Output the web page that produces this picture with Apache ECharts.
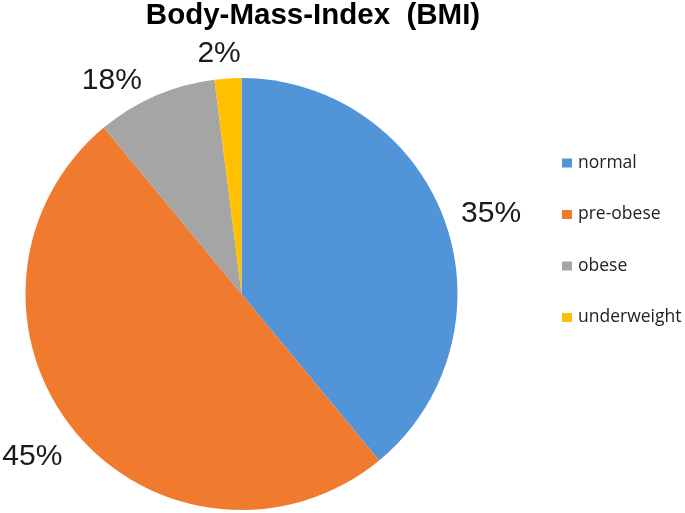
<!DOCTYPE html>
<html>
<head>
<meta charset="utf-8">
<script src="https://cdn.jsdelivr.net/npm/echarts@6/dist/echarts.min.js"></script>
<style>html,body{margin:0;padding:0;background:#fff}#c{width:685px;height:513px}</style>
</head>
<body>
<div id="c"></div>
<script>
// Data
var categories = ['normal', 'pre-obese', 'obese', 'underweight'];
var sliceValues = [39, 50, 9, 2];            // slice sizes as drawn
var labelTexts = ['35%', '45%', '18%', '2%']; // printed percentage labels
var colors = ['#5294D8', '#F07B2E', '#A5A5A5', '#FFC000'];
// small layout nudges for the percentage labels (style, not data)
var labelNudges = [[4, 8], [-8, -4], [-26, 26], [-6, 20]];

var mainData = categories.map(function (c, i) {
  return { name: c, value: sliceValues[i], itemStyle: { color: colors[i] } };
});
var labelData = categories.map(function (c, i) {
  return { name: c, value: sliceValues[i], label: { offset: labelNudges[i] } };
});

var chart = echarts.init(document.getElementById('c'), null, { renderer: 'canvas' });
chart.setOption({
  animation: false,
  backgroundColor: '#ffffff',
  title: {
    text: 'Body-Mass-Index  (BMI)',
    left: 308,
    textAlign: 'center',
    top: -4,
    textStyle: { fontFamily: 'Liberation Sans', fontSize: 29.5, fontWeight: 'bold', color: '#000' }
  },
  legend: {
    orient: 'vertical',
    left: 562,
    top: 153,
    padding: 0,
    icon: 'rect',
    itemWidth: 10,
    itemHeight: 9,
    itemGap: 31.5,
    data: categories.map(function (c, i) { return { name: c, itemStyle: { color: colors[i] } }; }),
    textStyle: { fontFamily: 'Open Sans', fontSize: 17.5, color: '#222', lineHeight: 20, padding: [0, 0, 0, 1] }
  },
  series: [
    {
      type: 'pie',
      center: [241.5, 294],
      radius: [0, 216],
      startAngle: 90,
      clockwise: true,
      label: { show: false },
      labelLine: { show: false },
      itemStyle: { borderWidth: 0 },
      emphasis: { disabled: true },
      data: mainData
    },
    {
      type: 'pie',
      center: [241.5, 294],
      radius: [244, 272],
      startAngle: 90,
      clockwise: true,
      silent: true,
      itemStyle: { color: 'rgba(0,0,0,0)', borderWidth: 0 },
      label: {
        show: true,
        position: 'inside',
        formatter: function (p) { return labelTexts[p.dataIndex]; },
        fontFamily: 'Liberation Sans',
        fontSize: 30,
        color: '#1a1a1a'
      },
      labelLine: { show: false },
      emphasis: { disabled: true },
      data: labelData
    }
  ]
});
</script>
</body>
</html>
